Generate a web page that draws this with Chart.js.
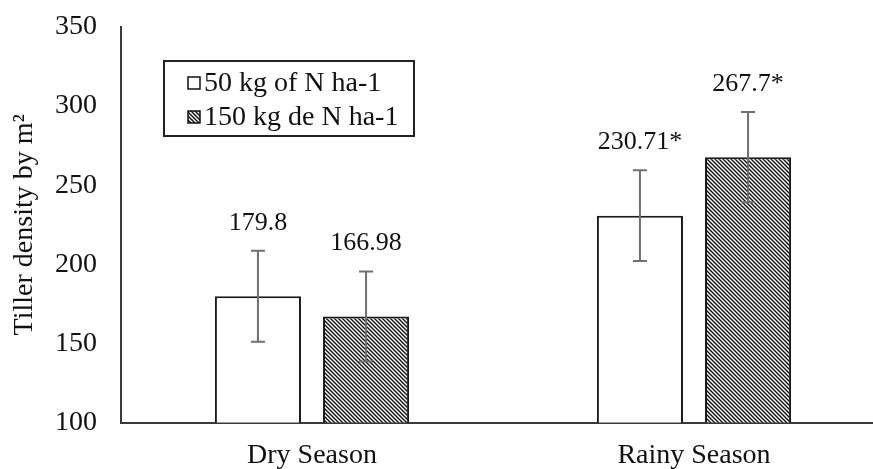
<!DOCTYPE html>
<html>
<head>
<meta charset="utf-8">
<script src="https://cdn.jsdelivr.net/npm/chart.js@4"></script>
<style>
  html, body { margin: 0; padding: 0; background: #fff; overflow: hidden; }
  #wrap { width: 885px; height: 469px; position: relative; }
</style>
</head>
<body>
<div id="wrap"><canvas id="c" width="885" height="469"></canvas></div>
<script>
const categories = ['Dry Season', 'Rainy Season'];
const seriesNames = ['50 kg of N ha-1', '150 kg de N ha-1'];
const values50 = [179.8, 230.71];
const values150 = [166.98, 267.7];
const errors50 = [28.7, 28.7];
const errors150 = [28.5, 28.5];
const labels50 = ['179.8', '230.71*'];
const labels150 = ['166.98', '267.7*'];
const yTicks = [100, 150, 200, 250, 300, 350];
const yTitle = 'Tiller density by m²';

const FONT = "'Liberation Serif', 'Times New Roman', serif";

function makeHatch() {
  const s = 4;
  const pc = document.createElement('canvas');
  pc.width = s; pc.height = s;
  const g = pc.getContext('2d');
  g.fillStyle = '#ffffff';
  g.fillRect(0, 0, s, s);
  g.strokeStyle = '#111';
  g.lineWidth = 1.4;
  g.beginPath();
  g.moveTo(-1, -1); g.lineTo(s + 1, s + 1);
  g.moveTo(-1, s - 1); g.lineTo(1, s + 1);
  g.moveTo(s - 1, -1); g.lineTo(s + 1, 1);
  g.stroke();
  return g.createPattern(pc, 'repeat');
}
const hatch = makeHatch();

const errorsBy = [errors50, errors150];
const textsBy = [labels50, labels150];

const overlay = {
  id: 'overlay',
  afterDatasetsDraw(chart) {
    const ctx = chart.ctx;
    const y = chart.scales.y;
    ctx.save();
    chart.data.datasets.forEach((ds, di) => {
      const meta = chart.getDatasetMeta(di);
      meta.data.forEach((bar, i) => {
        const v = ds.data[i];
        const e = errorsBy[di][i];
        const x = bar.x;
        const yt = y.getPixelForValue(v + e);
        const yb = y.getPixelForValue(v - e);
        ctx.strokeStyle = '#707070';
        ctx.lineWidth = 2;
        ctx.beginPath();
        ctx.moveTo(x, yt); ctx.lineTo(x, yb);
        ctx.moveTo(x - 7, yt); ctx.lineTo(x + 7, yt);
        ctx.moveTo(x - 7, yb); ctx.lineTo(x + 7, yb);
        ctx.stroke();
        ctx.fillStyle = '#111';
        ctx.font = '26px ' + FONT;
        ctx.textAlign = 'center';
        ctx.textBaseline = 'middle';
        ctx.fillText(textsBy[di][i], x, yt - 28);
      });
    });
    // legend box
    const lx = 164, ly = 61, lw = 250, lh = 75;
    ctx.fillStyle = '#fff';
    ctx.fillRect(lx, ly, lw, lh);
    ctx.strokeStyle = '#222';
    ctx.lineWidth = 2;
    ctx.strokeRect(lx, ly, lw, lh);
    chart.data.datasets.forEach((ds, di) => {
      const cy = ly + 22 + di * 34;
      ctx.fillStyle = ds.backgroundColor;
      ctx.fillRect(188, cy - 6, 12, 12);
      ctx.strokeStyle = '#111';
      ctx.lineWidth = 1.5;
      ctx.strokeRect(188, cy - 6, 12, 12);
      ctx.fillStyle = '#111';
      ctx.font = '28px ' + FONT;
      ctx.textAlign = 'left';
      ctx.textBaseline = 'middle';
      ctx.fillText(ds.label, 204, cy + 1);
    });
    ctx.restore();
  }
};

new Chart(document.getElementById('c'), {
  type: 'bar',
  data: {
    labels: categories,
    datasets: [
      { label: seriesNames[0], data: values50, backgroundColor: '#ffffff',
        borderColor: '#1a1a1a', borderWidth: 2,
        categoryPercentage: 0.566, barPercentage: 0.796 },
      { label: seriesNames[1], data: values150, backgroundColor: hatch,
        borderColor: '#1a1a1a', borderWidth: 2,
        categoryPercentage: 0.566, barPercentage: 0.796 }
    ]
  },
  options: {
    responsive: false,
    animation: false,
    layout: { padding: { top: 27, right: 0, left: 0, bottom: 0 } },
    plugins: { legend: { display: false }, tooltip: { enabled: false } },
    scales: {
      x: {
        grid: { display: false, drawTicks: false },
        border: { display: true, color: '#3a3a3a', width: 2 },
        ticks: { color: '#111', font: { family: FONT, size: 28 }, padding: 16 },
        afterFit(s) { s.height = 46.5; s.paddingLeft = 0; s.paddingRight = 0; }
      },
      y: {
        min: 100, max: 350,
        afterBuildTicks(s) { s.ticks = yTicks.map(v => ({ value: v })); },
        grid: { display: false, drawTicks: false },
        border: { display: true, color: '#3a3a3a', width: 2 },
        ticks: { color: '#111', font: { family: FONT, size: 28 }, padding: 24 },
        title: { display: true, text: yTitle, color: '#111',
                 font: { family: FONT, size: 28 }, padding: { top: 8, bottom: 0 } },
        afterFit(s) { s.width = 121; s.paddingTop = 0; s.paddingBottom = 0; }
      }
    }
  },
  plugins: [overlay]
});
</script>
</body>
</html>
